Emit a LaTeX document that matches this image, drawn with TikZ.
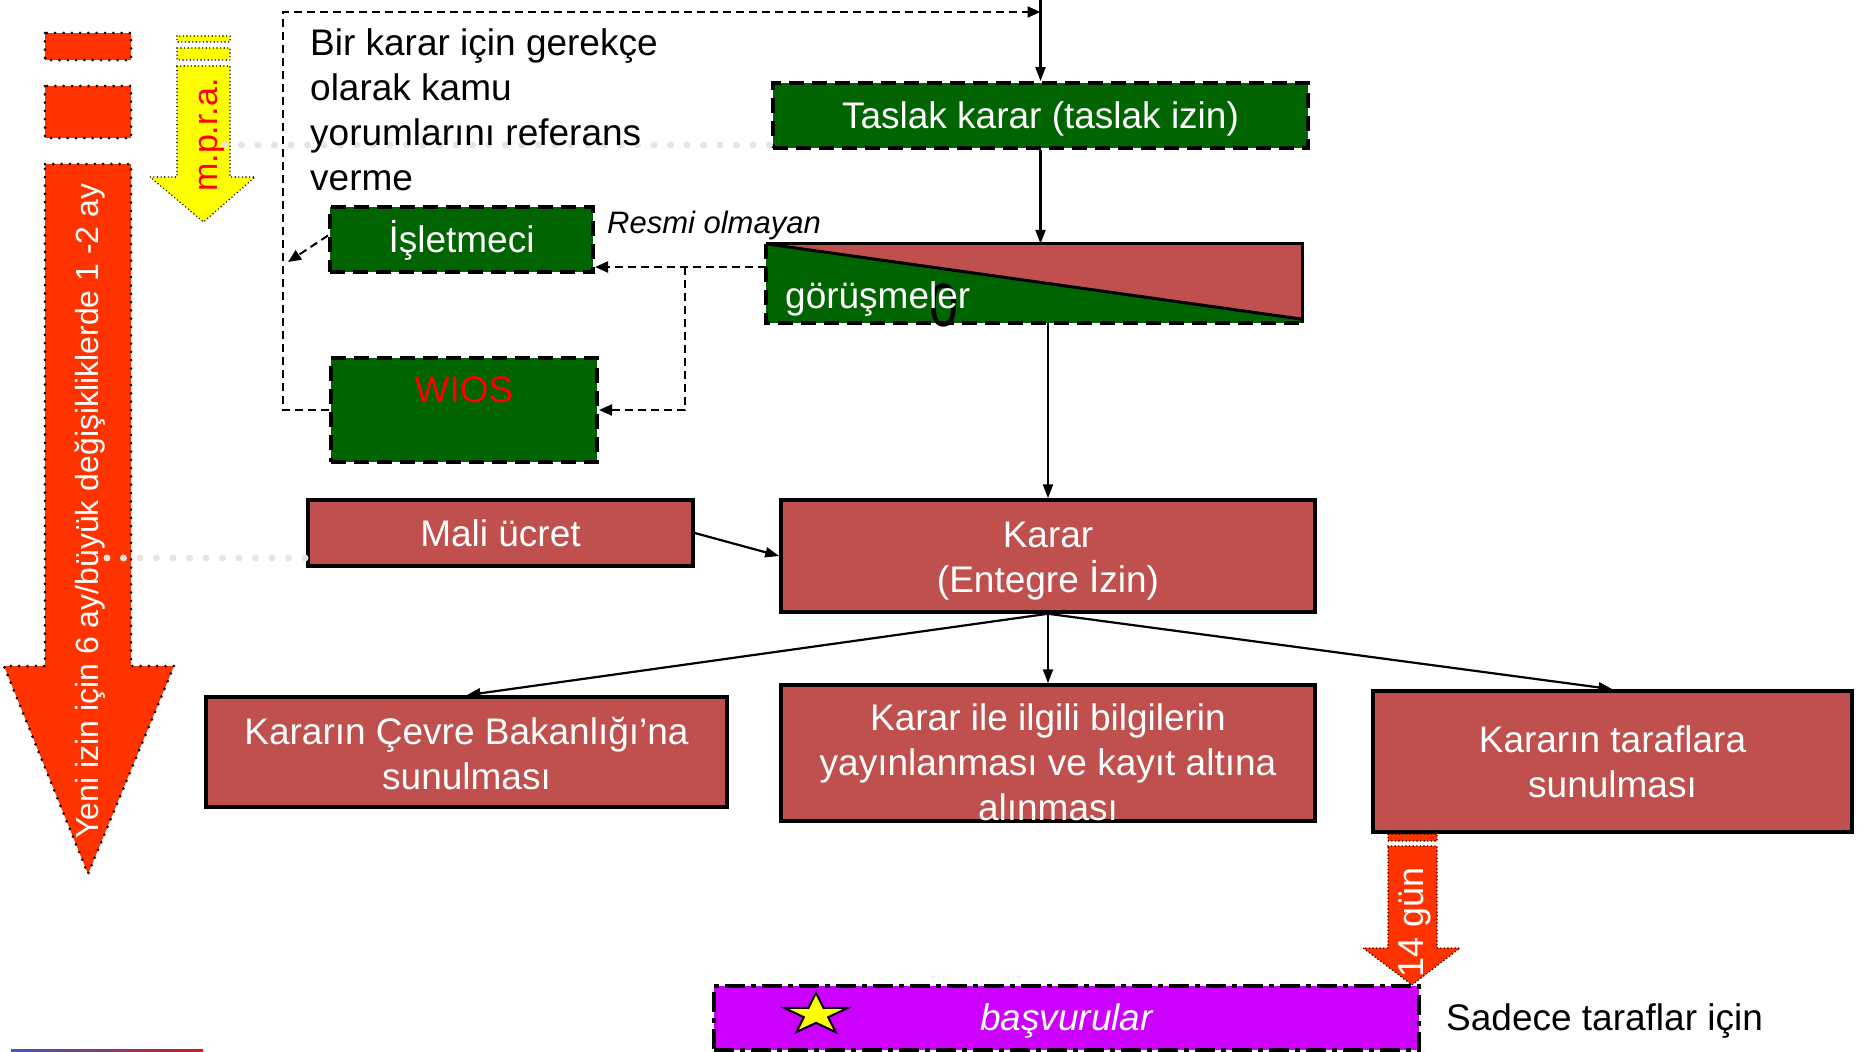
\documentclass[tikz,border=0pt]{standalone}
\usepackage{fontspec}
\setmainfont{Liberation Sans}
\usetikzlibrary{arrows.meta}

\definecolor{boxred}{RGB}{192,80,77}
\definecolor{boxgreen}{RGB}{0,100,0}
\definecolor{hotred}{RGB}{255,51,0}
\definecolor{hotyellow}{RGB}{255,255,0}
\definecolor{purplebox}{RGB}{204,0,255}
\definecolor{dotgrey}{RGB}{232,230,220}
\definecolor{barblue}{RGB}{70,85,190}
\definecolor{barnavy}{RGB}{30,25,90}
\definecolor{barred}{RGB}{200,30,30}

\newcommand\fsz[2]{\fontsize{#1pt}{#2pt}\selectfont}

\begin{document}
\begin{tikzpicture}[x=1pt,y=-1pt,
  lineboxtext/.style={text height=33.5pt, text depth=7.8pt},
  greenbox/.style={draw=black, line width=4pt, dash pattern=on 15pt off 8pt,
    fill=boxgreen, text=white, inner sep=0pt, font=\fsz{37}{45}, lineboxtext},
  redbox/.style={draw=black, line width=3.5pt, fill=boxred, text=white,
    inner sep=0pt, align=center, font=\fsz{37}{45}},
  boxtext/.style={text=white, inner sep=0pt, align=center, font=\fsz{37}{45}},
  dconn/.style={draw=black, line width=2pt, dash pattern=on 8pt off 5pt,
    -{Triangle[length=13pt,width=11pt]}},
  sconn/.style={draw=black, line width=2.2pt, -{Triangle[length=14pt,width=10pt]}},
  leader/.style={draw=dotgrey, line width=7pt, line cap=round,
    dash pattern=on 0pt off 16.5pt},
  bigdots/.style={draw=black, line width=3pt, line cap=round,
    dash pattern=on 0pt off 8.3pt},
  smalldots/.style={draw=black, line width=1.6pt, line cap=round,
    dash pattern=on 0pt off 3.6pt},
]
% page
\fill[white] (0,0) rectangle (1864,1052);
\useasboundingbox (0,0) rectangle (1864,1052);

% time bars on the left
\draw[bigdots, fill=hotred] (45,33) rectangle (131,60);
\draw[bigdots, fill=hotred] (45,86) rectangle (131,138);
\draw[bigdots, fill=hotred] (45,164) -- (131,164) -- (131,666) -- (174,666)
  -- (88,874) -- (4,666) -- (45,666) -- cycle;

\draw[smalldots, fill=hotyellow] (177,36) rectangle (230,42);
\draw[smalldots, fill=hotyellow] (177,48) rectangle (230,60);
\draw[smalldots, fill=hotyellow] (177,66) -- (230,66) -- (230,177) -- (255,177)
  -- (203.5,222) -- (150,177) -- (177,177) -- cycle;

% boxes
\node[greenbox, minimum width=535pt, minimum height=65pt] (taslak) at (1040.5,115.5) {Taslak karar (taslak izin)};
\node[greenbox, minimum width=263pt, minimum height=65pt] (isl) at (461.5,239.5) {İşletmeci};
\node[greenbox, minimum width=266pt, minimum height=104pt] (wios) at (464,410) {};
\node[text=red, font=\fsz{37}{45}, inner sep=0pt] (wiostext) at (464,390) {WIOS};

\node[redbox, minimum width=385pt, minimum height=66pt] (mali) at (500.5,533) {Mali ücret};
\node[redbox, minimum width=534pt, minimum height=112pt] (karar) at (1048,556) {};
\node[boxtext] (karartext) at (1048,561) {Karar\\(Entegre İzin)};
\node[redbox, minimum width=521pt, minimum height=110pt] (cevre) at (466.5,752) {};
\node[boxtext] (cevretext) at (466.5,754) {Kararın Çevre Bakanlığı’na\\sunulması};
\node[redbox, minimum width=534pt, minimum height=136pt] (yayin) at (1048,753) {};
\node[boxtext] (yayintext) at (1048,762) {Karar ile ilgili bilgilerin\\yayınlanması ve kayıt altına\\alınması};
\node[redbox, minimum width=479pt, minimum height=141pt] (taraf) at (1612.5,761.5) {Kararın taraflara\\sunulması};

% split box for the talks
\node[minimum width=536pt, minimum height=79pt, inner sep=0pt] (gorus) at (1034,283.5) {};
\fill[boxgreen] (gorus.north west) rectangle (gorus.south east);
\fill[boxred] (gorus.north west) -- (gorus.north east) -- ([yshift=4pt]gorus.south east) -- cycle;
\draw[line width=3pt] (gorus.north west) -- ([yshift=4pt]gorus.south east);
\draw[line width=3pt] (gorus.north west) -- (gorus.north east) -- (gorus.south east);
\draw[line width=4pt, dash pattern=on 15pt off 8pt] (gorus.north west) -- (gorus.south west) -- (gorus.south east);
\node[font=\fsz{61}{61}, inner sep=0pt, xscale=0.85] (zero) at (944,305) {0};
\node[anchor=base west, text=white, font=\fsz{37}{45}, inner sep=0pt] (gorustext) at (785,308) {görüşmeler};

% dotted leaders
\coordinate (ldA) at (225,145);
\draw[leader] (ldA) -- (ldA -| taslak.west);
\coordinate (ldB) at (107,558);
\draw[leader] (ldB) -- (ldB -| mali.west);

% texts
\node[rotate=90, text=white, font=\fsz{32}{36}, inner sep=0pt] (bigtxt) at (90,511) {Yeni izin için 6 ay/büyük değişikliklerde 1 -2 ay};
\node[rotate=90, text=red, font=\fsz{34}{36}, inner sep=0pt] (mpra) at (212,135) {m.p.r.a.};
\node[anchor=north west, align=left, font=\fsz{37}{45}, inner sep=0pt] (intro) at (310,28) {Bir karar için gerekçe\\olarak kamu\\yorumlarını referans\\verme};
\node[anchor=base west, font=\fsz{31}{36}\itshape, inner sep=0pt] (resmi) at (607,233) {Resmi olmayan};

% dashed feedback connectors
\coordinate (loopcorner) at (283,12);
\coordinate (topjoin) at (1040.5,12);
\draw[dconn] (wios.west) -| (loopcorner) -- (topjoin);
\coordinate (leftin) at (288,262);
\draw[dconn] ([yshift=4pt]isl.west) -- (leftin);
\coordinate (gout) at ([yshift=16.5pt]gorus.west);
\coordinate (branch) at (685,267);
\draw[dconn] (gout) -- (isl.east |- gout);
\draw[dconn] (branch) |- (wios.east);

% solid flow connectors
\coordinate (topsrc) at (1040.5,0);
\draw[sconn] (topsrc) -- (taslak.north);
\draw[sconn] (taslak.south) -- (taslak.south |- gorus.north);
\draw[sconn] (karar.north |- gorus.south) -- (karar.north);
\draw[sconn] (mali.east) -- (karar.west);
\draw[sconn] (karar.south) -- (cevre.north);
\draw[sconn] (karar.south) -- (yayin.north);
\draw[sconn] (karar.south) -- (taraf.north);

% 14 day arrow
\draw[smalldots, fill=hotred] (1388,834) rectangle (1437,841);
\draw[smalldots, fill=hotred] (1388,846) -- (1437,846) -- (1437,948) -- (1460,948)
  -- (1412,985) -- (1363,948) -- (1388,948) -- cycle;
\node[rotate=90, text=white, font=\fsz{36}{36}, inner sep=0pt] (gun) at (1415,922) {14 gün};

% appeals
\node[draw=black, line width=4pt, dash pattern=on 20pt off 6pt on 5pt off 6pt,
  fill=purplebox, text=white, font=\fsz{37}{45}\itshape, lineboxtext,
  minimum width=705pt, minimum height=64pt, inner sep=0pt] (basv) at (1066.5,1018) {başvurular};
\begin{scope}[shift={(816,1014.6)}, xscale=1.55]
\filldraw[fill=hotyellow, draw=black, line width=2pt]
  (-90:21.6) -- (-54:8.25) -- (-18:21.6) -- (18:8.25) -- (54:21.6) -- (90:8.25)
  -- (126:21.6) -- (162:8.25) -- (198:21.6) -- (234:8.25) -- cycle;
\end{scope}
\node[anchor=base west, font=\fsz{37}{45}, inner sep=0pt] (sadece) at (1446,1030) {Sadece taraflar için};

% corner bar
\shade[left color=barblue, middle color=barnavy, right color=barred] (11,1049) rectangle (203,1052);
\end{tikzpicture}
\end{document}
